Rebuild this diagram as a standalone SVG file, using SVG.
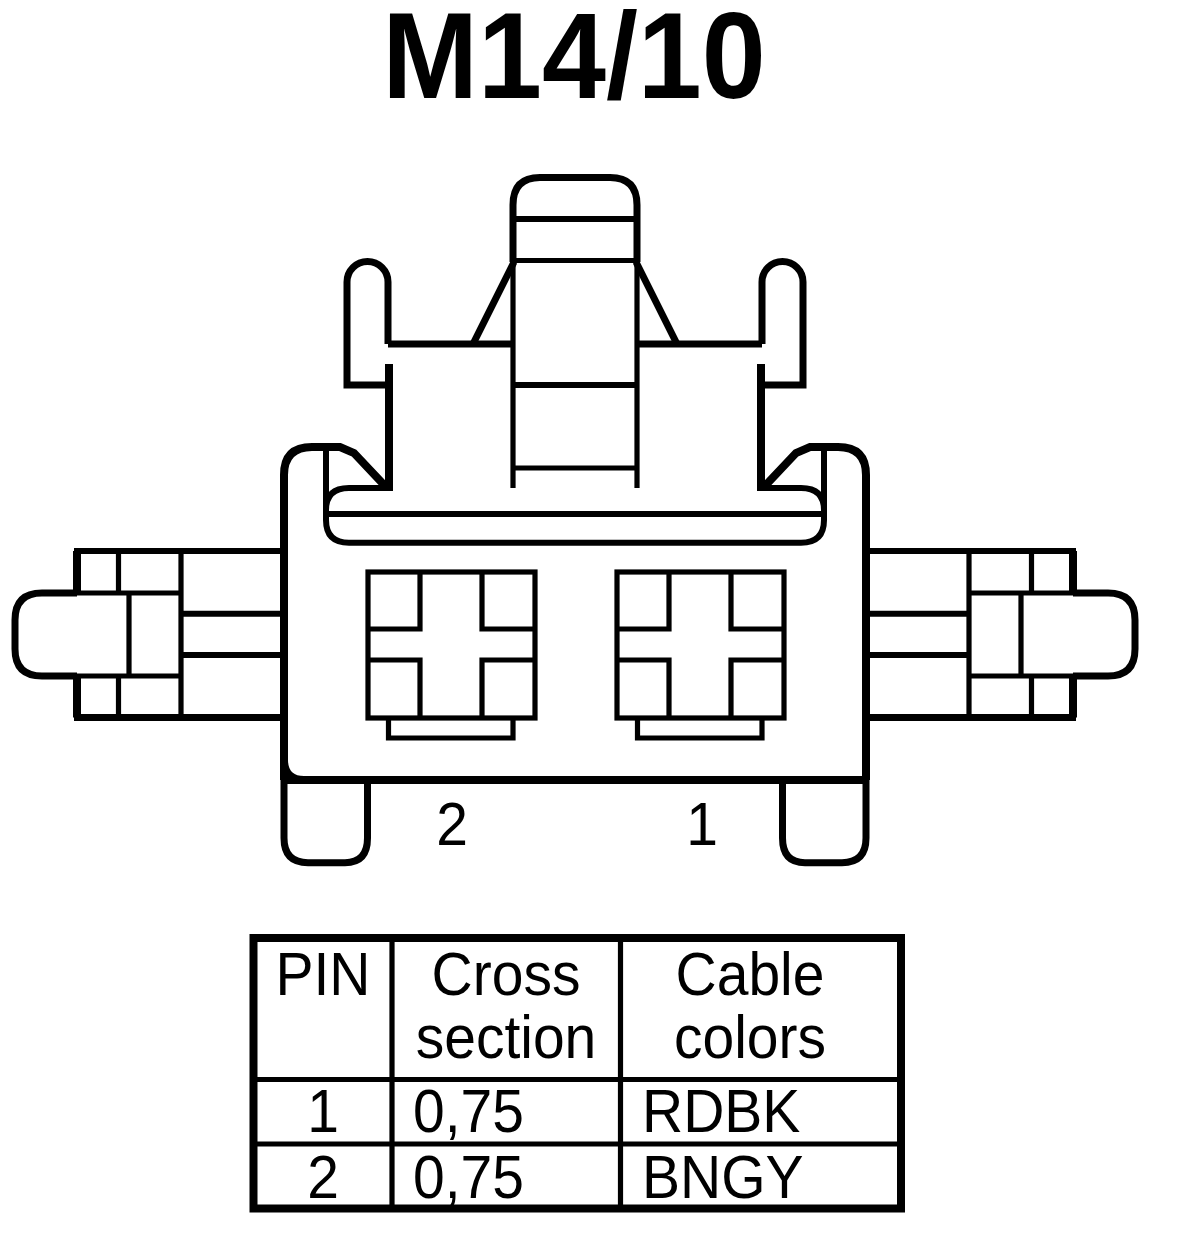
<svg xmlns="http://www.w3.org/2000/svg" width="1184" height="1246" viewBox="0 0 1184 1246">
<style>
text{font-family:"Liberation Sans",Arial,sans-serif;fill:#000;text-anchor:middle}
.t{font-size:57px}
.l{text-anchor:start}
path,rect,line{fill:none;stroke:#000;stroke-linejoin:miter}
.h{stroke-width:8}.n{stroke-width:7}.m{stroke-width:6}.s{stroke-width:5.200}
</style>
<defs>
<g id="socket">
<rect class="s" x="368" y="572" width="167" height="146"/>
<path class="s" d="M368 629H420V572M535 629H482V572M368 660H420V718M535 660H482V718M388.500 718V738H513V718"/>
</g>
<g id="side">
<path class="h" d="M284 780V475Q284 447 312 447H340L354 453L386 487"/>
<path class="h" d="M77 593V551M77 676V717.500"/>
<path class="n" d="M74 717.500H284"/>
<path class="m" d="M74 551H284"/>
<path class="s" d="M77 593H181M77 676H181"/>
<path class="n" d="M77 593H42Q15 593 15 620V649Q15 676 42 676H77"/>
<path class="s" d="M118.500 551V593M118.500 676V717M129 593V676M181 551V717"/>
<path class="m" d="M181 613.700H284M181 655H284"/>
<path class="m" d="M326 447V520Q326 542.700 349 542.700H575M389 488H349Q326 488 326 510"/>
<path class="m" d="M326 514H575"/>
<path class="n" d="M389 385H347V282A20.500 20.500 0 0 1 388 282V344"/>
<path class="n" d="M388 344H513"/>
<path class="h" d="M389 364V491"/>
<path class="n" d="M514 262L473 344"/>
<path class="n" d="M513 262V205Q513 177.500 540 177.500H575"/>
<path class="s" d="M513 260V488"/>
</g>
</defs>
<text id="title" transform="matrix(1 0 0 1.060 574 98.300)" font-size="115" font-weight="700">M14/10</text>
<g id="connector-body">
<use href="#side"/>
<use href="#side" transform="matrix(-1 0 0 1 1150 0)"/>
<path class="h" d="M284 780H866M284 760Q284 780 304 780"/>
<path class="m" d="M513 219H637M513 385H637"/>
<path class="s" d="M513 260.500H637M513 468H637"/>
</g>
<g id="feet">
<path class="n" d="M284 780V838Q284 862.700 308 862.700H345Q367.500 862.700 367.500 838V780"/>
<path class="n" d="M866 780V838Q866 862.700 842 862.700H805Q782.500 862.700 782.500 838V780"/>
</g>
<g id="pin-2"><use href="#socket"/><text transform="matrix(1 0 0 1.060 452 845)" class="t">2</text></g>
<g id="pin-1"><use href="#socket" x="249"/><text transform="matrix(1 0 0 1.060 702 845)" class="t">1</text></g>
<g id="table">
<path class="h" d="M253.500 938H901V1208.500H253.500Z"/>
<path class="s" d="M254 1079.500H901M254 1144H901M392 938V1208M620.500 938V1208"/>
<text transform="matrix(1 0 0 1.060 323 995)" class="t">PIN</text>
<text transform="matrix(1 0 0 1.060 506 995)" class="t">Cross</text>
<text transform="matrix(1 0 0 1.060 506 1058)" class="t">section</text>
<text transform="matrix(1 0 0 1.060 750 995)" class="t">Cable</text>
<text transform="matrix(1 0 0 1.060 750 1058)" class="t">colors</text>
<text transform="matrix(1 0 0 1.060 323 1132)" class="t">1</text>
<text transform="matrix(1 0 0 1.060 323 1198)" class="t">2</text>
<text transform="matrix(1 0 0 1.060 413 1132)" class="t l">0,75</text>
<text transform="matrix(1 0 0 1.060 413 1198)" class="t l">0,75</text>
<text transform="matrix(1 0 0 1.060 642 1132)" class="t l">RDBK</text>
<text transform="matrix(1 0 0 1.060 642 1198)" class="t l">BNGY</text>
</g>
</svg>
